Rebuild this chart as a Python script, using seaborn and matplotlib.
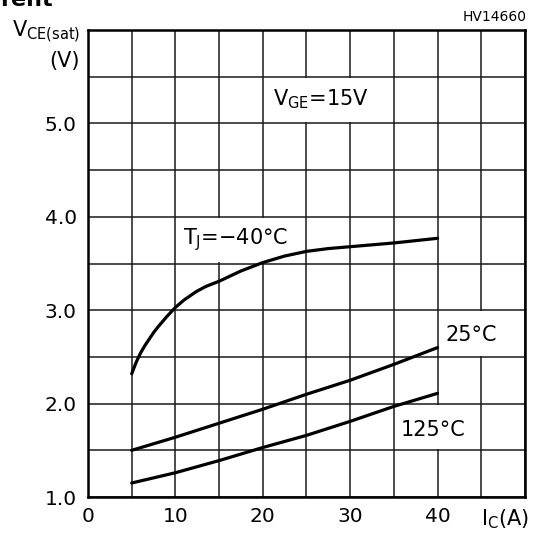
import matplotlib
matplotlib.use("Agg")
import matplotlib.pyplot as plt
import seaborn as sns
import pandas as pd
from matplotlib.patches import Rectangle
from matplotlib.ticker import FixedLocator, FuncFormatter

# --- data ---
ic_m40 = [5, 5.5, 6, 6.5, 7, 7.5, 8, 9, 10, 11, 12.4, 13.5, 15, 17.5, 20, 22.5, 25, 27.5, 30, 35, 40]
v_m40 = [2.32, 2.44, 2.54, 2.62, 2.69, 2.76, 2.82, 2.93, 3.03, 3.11, 3.20, 3.255, 3.31, 3.42, 3.51, 3.58, 3.63, 3.66, 3.68, 3.72, 3.77]
ic_25 = [5, 10, 15, 20, 25, 30, 35, 40]
v_25 = [1.50, 1.64, 1.79, 1.94, 2.10, 2.25, 2.42, 2.60]
ic_125 = [5, 10, 15, 20, 25, 30, 35, 40]
v_125 = [1.15, 1.26, 1.39, 1.53, 1.66, 1.81, 1.97, 2.11]
series_names = ["-40", "25", "125"]
x_tick_labels = ["0", "10", "20", "30", "40"]
y_tick_labels = ["1.0", "2.0", "3.0", "4.0", "5.0"]

df = pd.concat([
    pd.DataFrame({"Ic": ic_m40, "V": v_m40, "T": series_names[0]}),
    pd.DataFrame({"Ic": ic_25, "V": v_25, "T": series_names[1]}),
    pd.DataFrame({"Ic": ic_125, "V": v_125, "T": series_names[2]}),
])

sns.set_style("white")
plt.rcParams["font.family"] = ["DejaVu Sans"]
plt.rcParams["mathtext.fontset"] = "dejavusans"
plt.rcParams["text.color"] = "black"
plt.rcParams["xtick.color"] = "black"
plt.rcParams["ytick.color"] = "black"

fig = plt.figure(figsize=(5.34, 5.33), dpi=100)
ax = fig.add_axes([0.1648, 0.0675, 0.983 - 0.1648, 0.9437 - 0.0675])

sns.lineplot(data=df, x="Ic", y="V", hue="T", palette=["black"] * 3,
             linewidth=2.3, legend=False, ax=ax, sort=True, estimator=None,
             zorder=5)

ax.set_xlim(0, 50)
ax.set_ylim(1.0, 6.0)
ax.xaxis.set_major_locator(FixedLocator([i * 5 for i in range(11)]))
ax.yaxis.set_major_locator(FixedLocator([1.0 + 0.5 * i for i in range(11)]))

xl = {float(s): s for s in x_tick_labels}
yl = {float(s): s for s in y_tick_labels}
ax.xaxis.set_major_formatter(FuncFormatter(lambda v, p: xl.get(float(v), "")))
ax.yaxis.set_major_formatter(FuncFormatter(lambda v, p: yl.get(round(float(v), 1), "")))
ax.tick_params(axis="both", length=0, labelsize=14.5, labelcolor="black")
ax.tick_params(axis="x", pad=7)
ax.tick_params(axis="y", pad=8)

ax.grid(True, color="#1a1a1a", linewidth=1.1)
ax.set_axisbelow(True)
for s in ax.spines.values():
    s.set_color("black")
    s.set_linewidth(1.8)
    s.set_zorder(10)
ax.set_xlabel("")
ax.set_ylabel("")

# white cells behind the in-plot labels (x0, y0, width, height in data units), inset so cell borders stay
inx, iny = 0.12, 0.012
for (x0, y0, w, h) in [(20, 5.0, 15, 0.5), (10, 3.5, 15, 0.5), (40, 2.5, 10, 0.5), (35, 1.5, 10, 0.5)]:
    ax.add_patch(Rectangle((x0 + inx, y0 + iny), w - 2 * inx, h - 2 * iny,
                           facecolor="white", edgecolor="none", zorder=1.5, clip_on=True))

fs = 15
ax.text(26.7, 5.26, r"V$_{\mathrm{GE}}$=15V", fontsize=fs, ha="center", va="center", zorder=6)
ax.text(16.9, 3.76, r"T$_{\mathrm{J}}$=$-$40°C", fontsize=fs, ha="center", va="center", zorder=6)
ax.text(43.9, 2.74, "25°C", fontsize=fs, ha="center", va="center", zorder=6)
ax.text(39.5, 1.72, "125°C", fontsize=fs, ha="center", va="center", zorder=6)

# axis labels as free text
fig.text(0.150, 0.930, r"V$_{\mathrm{CE(sat)}}$", fontsize=fs, ha="right", va="baseline")
fig.text(0.150, 0.886, "(V)", fontsize=fs, ha="right", va="center")
fig.text(0.990, 0.025, r"I$_{\mathrm{C}}$(A)", fontsize=fs, ha="right", va="center")
fig.text(0.987, 0.968, "HV14660", fontsize=10, ha="right", va="center")
fig.text(0.0, 1.0, "rent", fontsize=16, fontweight="bold", ha="left", va="center")

fig.savefig("out.png", dpi=100)
